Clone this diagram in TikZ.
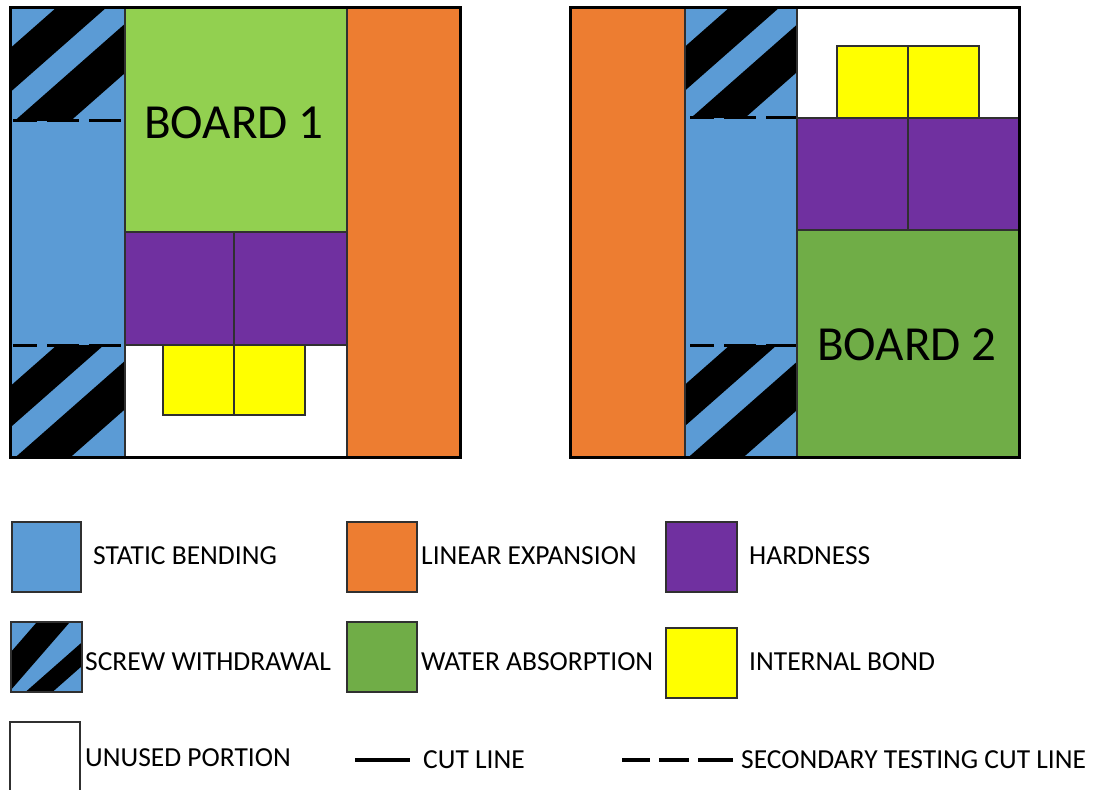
\documentclass[tikz,border=0pt]{standalone}
\usepackage{fontspec}
\setmainfont{Carlito}
\definecolor{sbblue}{HTML}{5B9BD5}
\definecolor{leorange}{HTML}{ED7D31}
\definecolor{hdpurple}{HTML}{7030A0}
\definecolor{ibyellow}{HTML}{FFFF00}
\definecolor{waone}{HTML}{92D050}
\definecolor{watwo}{HTML}{70AD47}
\definecolor{edge}{HTML}{303030}
\newcommand\stripeband[5]{\fill[black] ({#1+#3},#2) -- ({#1+#4},#2) -- ({#1+#4-300},{#2+300*#5}) -- ({#1+#3-300},{#2+300*#5}) -- cycle;}
\begin{document}
\begin{tikzpicture}[x=1pt,y=-1pt,
  piece/.style={draw=edge,line width=1.2pt},
  board/.style={draw=black,line width=3pt},
  secdash/.style={line width=3pt,dash pattern=on 24pt off 10pt on 32pt off 10pt on 32pt off 10pt},
  legbox/.style={draw=edge,line width=1.3pt},
  legtext/.style={anchor=west,inner sep=0pt,font=\fontsize{27.5}{31}\selectfont},
  boardtext/.style={inner sep=0pt,font=\fontsize{49}{56}\selectfont}]
\useasboundingbox (0,0) rectangle (1096,790);
\fill[white] (0,0) rectangle (1096,790);

% ===== BOARD 1 =====
\fill[sbblue] (10,7) rectangle (125,457);
\begin{scope}
 \clip (12,7) rectangle (125,120);
 \stripeband{12}{7}{45}{95}{0.88}
 \stripeband{12}{7}{132}{188}{0.88}
\end{scope}
\begin{scope}
 \clip (12,345) rectangle (125,457);
 \stripeband{12}{345}{45}{92}{0.88}
 \stripeband{12}{345}{131}{186}{0.88}
\end{scope}
\draw[edge,line width=1pt] (125,7) -- (125,457);
\fill[waone,piece] (125,7) rectangle (347,232);
\filldraw[hdpurple,piece] (125,232) rectangle (234,345);
\filldraw[hdpurple,piece] (234,232) rectangle (347,345);
\filldraw[white,piece] (125,345) rectangle (347,457);
\filldraw[ibyellow,piece] (163,345) rectangle (234,415);
\filldraw[ibyellow,piece] (234,345) rectangle (305,415);
\filldraw[leorange,piece] (347,7) rectangle (460,457);
\draw[secdash] (13,120) -- (123,120);
\draw[secdash] (13,345) -- (123,345);
\node[boardtext] (b1) at (234,123) {BOARD 1};
\draw[board] (10,7) rectangle (460,457);

% ===== BOARD 2 =====
\filldraw[leorange,piece] (570,7) rectangle (685,457);
\fill[sbblue] (685,7) rectangle (797,457);
\begin{scope}
 \clip (685,7) rectangle (797,117);
 \stripeband{685}{7}{45}{95}{0.88}
 \stripeband{685}{7}{132}{186}{0.88}
\end{scope}
\begin{scope}
 \clip (685,345) rectangle (797,457);
 \stripeband{685}{345}{45}{92}{0.88}
 \stripeband{685}{345}{131}{186}{0.88}
\end{scope}
\draw[edge,line width=1pt] (685,7) -- (685,457);
\filldraw[white,piece] (797,7) rectangle (1019,118);
\filldraw[ibyellow,piece] (837,46) rectangle (908,118);
\filldraw[ibyellow,piece] (908,46) rectangle (979,118);
\filldraw[hdpurple,piece] (797,118) rectangle (908,230);
\filldraw[hdpurple,piece] (908,118) rectangle (1019,230);
\filldraw[watwo,piece] (797,230) rectangle (1019,457);
\draw[secdash] (690,117) -- (796,117);
\draw[secdash] (690,345) -- (796,345);
\node[boardtext] (b2) at (907,345) {BOARD 2};
\draw[board] (570,7) rectangle (1019,457);

% ===== LEGEND =====
\filldraw[sbblue,legbox] (12,522) rectangle (81,592);
\node[legtext] (l1) at (93,556) {STATIC BENDING};

\fill[sbblue] (11,622) rectangle (82,692);
\begin{scope}
 \clip (11,622) rectangle (82,692);
 \stripeband{11}{622}{26}{59}{1.15}
 \stripeband{11}{622}{94}{121}{0.88}
\end{scope}
\draw[legbox] (11,622) rectangle (82,692);
\node[legtext] (l2) at (85,662) {SCREW WITHDRAWAL};

\draw[legbox] (10,790) -- (10,722) -- (80,722) -- (80,790);
\node[legtext] (l3) at (85,758) {UNUSED PORTION};

\filldraw[leorange,legbox] (347,522) rectangle (417,592);
\node[legtext] (l4) at (421,556) {LINEAR EXPANSION};

\filldraw[watwo,legbox] (347,622) rectangle (417,692);
\node[legtext] (l5) at (421,662) {WATER ABSORPTION};

\filldraw[hdpurple,legbox] (666,522) rectangle (737,592);
\node[legtext] (l6) at (749,556) {HARDNESS};

\filldraw[ibyellow,legbox] (666,628) rectangle (737,698);
\node[legtext] (l7) at (749,662) {INTERNAL BOND};

\coordinate (c1) at (355,760);
\coordinate (c2) at (410,760);
\draw[line width=3.5pt] (c1) -- (c2);
\node[legtext] (l8) at (423,760) {CUT LINE};

\coordinate (d1) at (622,760);
\coordinate (d2) at (733,760);
\draw[line width=3.5pt,dash pattern=on 28pt off 9pt on 30pt off 9pt on 35pt off 9pt] (d1) -- (d2);
\node[legtext] (l9) at (741,760) {SECONDARY TESTING CUT LINE};
\end{tikzpicture}
\end{document}
